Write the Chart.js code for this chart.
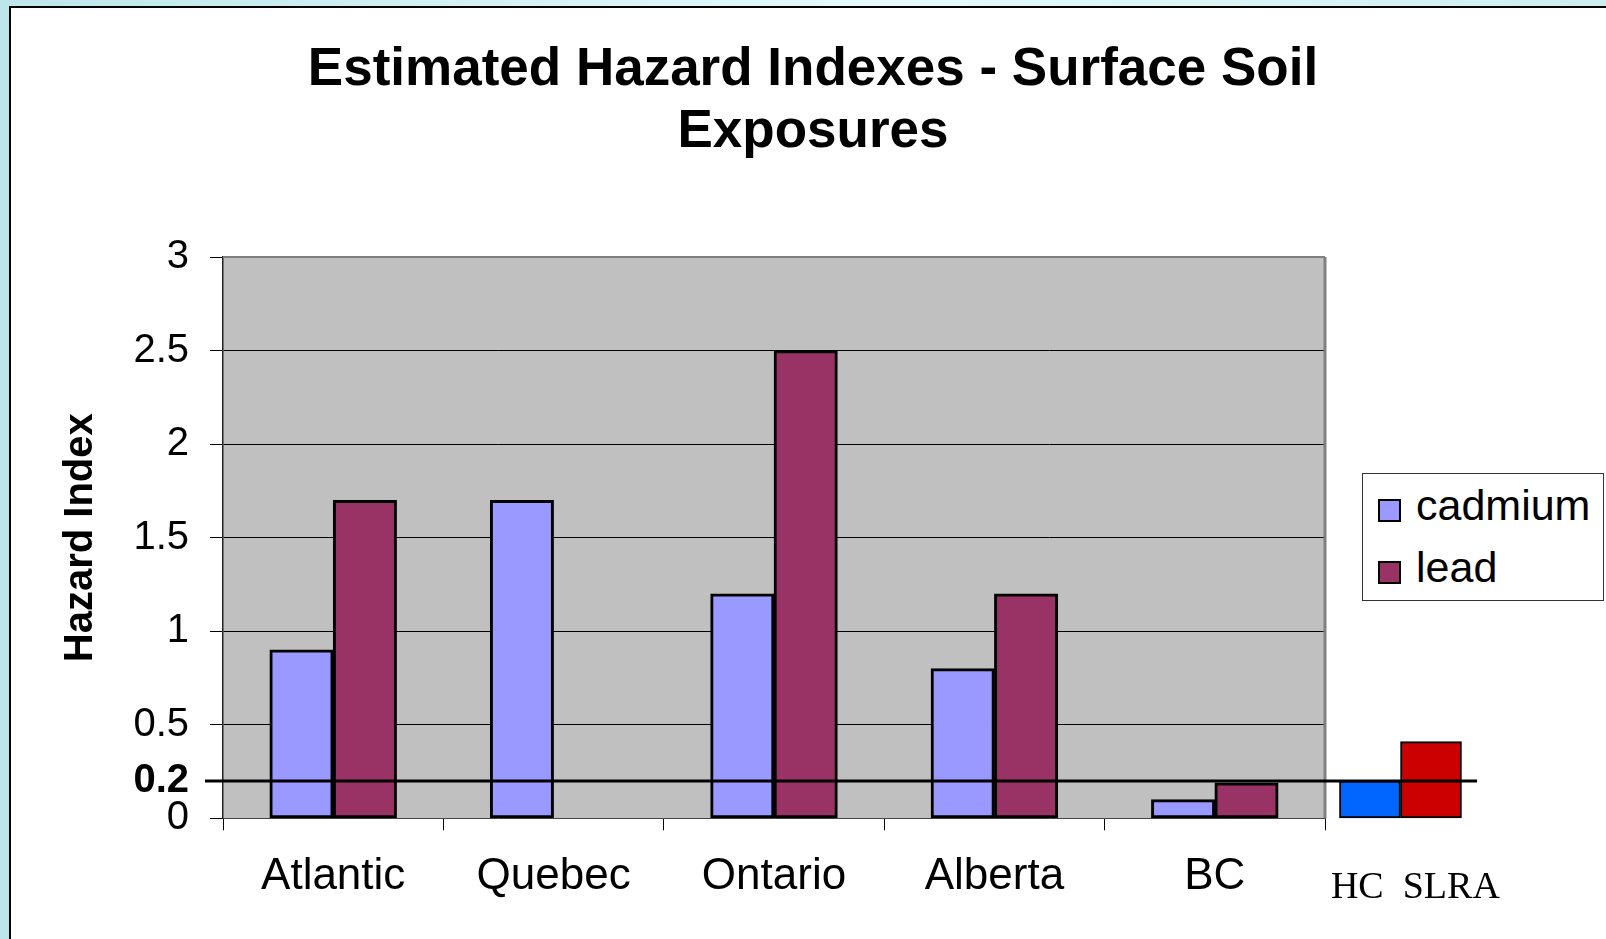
<!DOCTYPE html>
<html lang="en">
<head>
  <meta charset="UTF-8">
  <title>Estimated Hazard Indexes - Surface Soil Exposures</title>
  <script src="https://cdn.jsdelivr.net/npm/chart.js"></script>
  <style>
    body {
      margin: 0;
      width: 1606px;
      height: 939px;
      overflow: hidden;
      background: linear-gradient(90deg, #bde6ea, #e6fafa 55%, #cdeeee);
      font-family: 'Liberation Sans', Arial, sans-serif;
    }
    .panel {
      position: absolute;
      left: 9px;
      top: 6px;
      right: 0;
      bottom: 0;
      background: #fff;
      border-left: 2px solid #000;
      border-top: 2px solid #000;
    }
    #chart {
      position: absolute;
      left: 0;
      top: 0;
    }
    .legend {
      position: absolute;
      left: 1362px;
      top: 473px;
      width: 242px;
      height: 128px;
      box-sizing: border-box;
      border: 1px solid #333;
      background: #fff;
    }
    .legend div {
      height: 62px;
      line-height: 62px;
      font-size: 43px;
      color: #000;
      white-space: nowrap;
    }
    .legend span {
      display: inline-block;
      width: 23px;
      height: 23px;
      box-sizing: border-box;
      border: 2px solid #000;
      margin: 0 15px 0 15px;
      vertical-align: -2px;
    }
  </style>
</head>
<body>
  <div class="panel"></div>
  <canvas id="chart" width="1606" height="939"></canvas>
  <div class="legend" id="legend"></div>

  <script>
    const regions = ['Atlantic', 'Quebec', 'Ontario', 'Alberta', 'BC'];
    const cadmium = [0.9, 1.7, 1.2, 0.8, 0.1];
    const lead = [1.7, null, 2.5, 1.2, 0.19];
    const yTicks = [0, 0.2, 0.5, 1, 1.5, 2, 2.5, 3];
    const refLevel = 0.2;
    const benchNames = ['HC', 'SLRA'];
    const benchValues = [0.2, 0.41];
    const benchText = 'HC  SLRA';

    // positions on the x axis, in category units (category i is centred on i + 0.5)
    const benchSlots = [5.204, 5.481];
    const benchTextSlot = 5.41;
    const refLineEnd = 5.69;

    const sans = "'Liberation Sans', Arial, sans-serif";
    const serif = "'Liberation Serif', 'Times New Roman', serif";
    const colors = { cadmium: '#9999FF', lead: '#993366', HC: '#0066FF', SLRA: '#CC0000' };

    // tick marks on category borders, labels in the middle of each category
    const xTicks = [];
    for (let i = 0; i <= regions.length; i++) {
      xTicks.push(i);
      if (i < regions.length) xTicks.push(i + 0.5);
    }
    xTicks.push(benchTextSlot);

    const plotFrame = {
      id: 'plotFrame',
      beforeDraw(chart) {
        const { ctx, chartArea: a } = chart;
        ctx.save();
        ctx.fillStyle = '#C0C0C0';
        ctx.fillRect(a.left, a.top, a.right - a.left, a.bottom - a.top);
        ctx.restore();
      },
      beforeDatasetsDraw(chart) {
        const { ctx, chartArea: a } = chart;
        ctx.save();
        ctx.strokeStyle = '#808080';
        ctx.lineWidth = 2;
        ctx.beginPath();
        ctx.moveTo(a.left, a.top);
        ctx.lineTo(a.right, a.top);
        ctx.stroke();
        ctx.lineWidth = 3;
        ctx.beginPath();
        ctx.moveTo(a.right, a.top);
        ctx.lineTo(a.right, a.bottom);
        ctx.stroke();
        ctx.restore();
      },
      afterDatasetsDraw(chart) {
        // the 0.2 reference line runs past the plot, over the HC / SLRA bars
        const { ctx, chartArea: a, scales } = chart;
        const y = scales.y.getPixelForValue(refLevel);
        ctx.save();
        ctx.strokeStyle = '#000';
        ctx.lineWidth = 3;
        ctx.beginPath();
        ctx.moveTo(a.left - 18, y);
        ctx.lineTo(scales.x.getPixelForValue(refLineEnd), y);
        ctx.stroke();
        ctx.restore();
      }
    };

    const regionPoints = values => values.map((v, i) => ({ x: i + 0.5, y: v }));

    new Chart(document.getElementById('chart'), {
      type: 'bar',
      data: {
        datasets: [
          {
            label: 'cadmium',
            data: regionPoints(cadmium),
            backgroundColor: colors.cadmium,
            borderColor: '#000',
            borderWidth: 3,
            borderSkipped: false,
            barThickness: 63.4
          },
          {
            label: 'lead',
            data: regionPoints(lead),
            backgroundColor: colors.lead,
            borderColor: '#000',
            borderWidth: 3,
            borderSkipped: false,
            barThickness: 63.4
          },
          {
            label: 'benchmarks',
            data: benchNames.map((n, i) => ({ x: benchSlots[i], y: benchValues[i] })),
            backgroundColor: benchNames.map(n => colors[n]),
            borderColor: '#000',
            borderWidth: 2,
            borderSkipped: false,
            barThickness: 61,
            grouped: false,
            clip: false
          }
        ]
      },
      options: {
        responsive: false,
        animation: false,
        layout: { padding: { left: 20, right: 0, top: 0, bottom: 0 } },
        plugins: {
          legend: { display: false },
          tooltip: { enabled: false },
          title: {
            display: true,
            text: ['Estimated Hazard Indexes - Surface Soil', 'Exposures'],
            color: '#000',
            font: { family: sans, size: 53, weight: 'bold', lineHeight: 1.18 },
            padding: { top: 39, bottom: 93 }
          }
        },
        scales: {
          x: {
            type: 'linear',
            min: 0,
            max: regions.length,
            offset: false,
            afterBuildTicks: s => { s.ticks = xTicks.map(v => ({ value: v })); },
            grid: {
              offset: false,
              drawOnChartArea: false,
              tickLength: 12,
              lineWidth: 1,
              color: c => (c.tick && Number.isInteger(c.tick.value) ? '#000' : 'transparent')
            },
            border: { color: '#444', width: 1 },
            ticks: {
              color: '#000',
              padding: 20,
              maxRotation: 0,
              autoSkip: false,
              font: c => (c.tick && c.tick.value === benchTextSlot
                ? { family: serif, size: 38, lineHeight: 2.0 }
                : { family: sans, size: 44, lineHeight: 1.2 }),
              callback: v => {
                if (v === benchTextSlot) return benchText;
                if (v % 1 === 0.5) return regions[Math.floor(v)];
                return '';
              }
            },
            afterFit: s => { s.height = 120.7; }
          },
          y: {
            min: 0,
            max: 3,
            afterBuildTicks: s => { s.ticks = yTicks.map(v => ({ value: v })); },
            grid: {
              color: c => {
                const v = c.tick ? c.tick.value : null;
                if (v === 0 || v === refLevel) return 'transparent';
                if (v === 3) return '#808080';
                return '#000';
              },
              tickColor: '#000',
              tickLength: 13,
              lineWidth: 1
            },
            border: { color: '#222', width: 1.5 },
            ticks: {
              color: '#000',
              padding: 21,
              font: c => ({
                family: sans,
                size: 40,
                weight: c.tick && c.tick.value === refLevel ? 'bold' : 'normal'
              }),
              callback: v => String(v)
            },
            title: {
              display: true,
              text: 'Hazard Index',
              color: '#000',
              font: { family: sans, size: 40, weight: 'bold' },
              padding: { top: 37, bottom: 0 }
            },
            afterFit: s => { s.width = 203; }
          },
          // empty axis that keeps the room on the right for the legend and the HC / SLRA bars
          yr: {
            position: 'right',
            grid: { display: false },
            ticks: { display: false },
            afterFit: s => { s.width = 281; }
          }
        }
      },
      plugins: [plotFrame]
    });

    const legendBox = document.getElementById('legend');
    [['cadmium', colors.cadmium], ['lead', colors.lead]].forEach(([name, color]) => {
      const row = document.createElement('div');
      const sw = document.createElement('span');
      sw.style.background = color;
      row.appendChild(sw);
      row.appendChild(document.createTextNode(name));
      legendBox.appendChild(row);
    });
  </script>
</body>
</html>
